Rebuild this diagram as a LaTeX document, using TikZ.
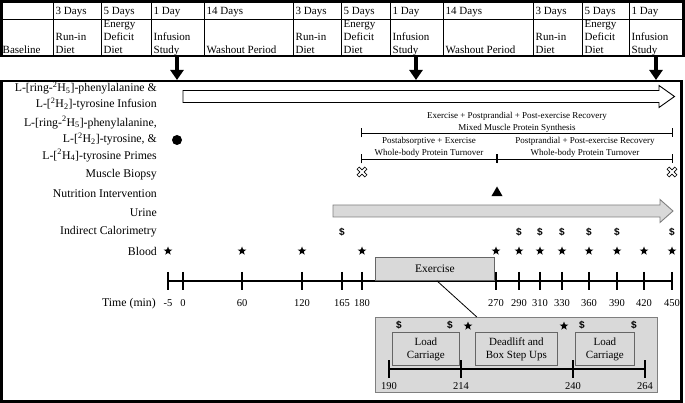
\documentclass[tikz,border=0pt]{standalone}
\usepackage{fontspec}
\setmainfont{Liberation Serif}
\setsansfont{Liberation Sans}
\usepackage{tikz}
\usetikzlibrary{positioning, arrows.meta, calc, shapes.geometric}
\definecolor{lightfill}{HTML}{D9D9D9}
\definecolor{edgegray}{HTML}{7F7F7F}
\newcommand{\iso}[2]{\textsuperscript{2}H\textsubscript{#1}#2}

\begin{document}
\begin{tikzpicture}[x=1pt, y=-1pt,
    rule/.style={line width=0.6pt},
    border/.style={line width=2.6pt},
    hdr/.style={anchor=base west, inner sep=0pt, font=\fontsize{11}{13}\selectfont},
    cell/.style={anchor=south west, align=left, text depth=0pt, inner xsep=2.5pt, inner ysep=2pt, font=\fontsize{11}{13}\selectfont},
    down/.style={line width=4pt, -{Triangle[length=10pt, width=13pt]}},
    lbl/.style={anchor=east, align=right, inner sep=0pt, font=\fontsize{11.8}{16.5}\selectfont},
    note/.style={align=center, inner sep=0pt, font=\fontsize{9}{11.5}\selectfont},
    num/.style={anchor=base, inner sep=0pt, font=\fontsize{10.5}{12}\selectfont},
    span/.style={line width=0.9pt, {Bar[width=9pt]}-{Bar[width=9pt]}},
    axis/.style={line width=2.6pt},
    tick/.style={line width=2.6pt},
    blood/.style={star, star points=5, star point ratio=2.4, fill, inner sep=0pt, minimum size=9pt},
    vo2/.style={inner sep=0pt, font=\fontsize{10}{10}\selectfont\sffamily\bfseries},
    hollow/.style={draw, line width=0.9pt, fill=white},
    grayflow/.style={draw=edgegray, line width=0.9pt, fill=lightfill},
    phase/.style={draw=black!60, line width=0.8pt, fill=lightfill, align=center, inner sep=0pt, font=\fontsize{11}{13}\selectfont},
    biopsy/.pic={\draw[fill=white, line width=0.6pt, rotate=45] (-1.5,-5.5) -- (1.5,-5.5) -- (1.5,-1.5) -- (5.5,-1.5) -- (5.5,1.5) -- (1.5,1.5) -- (1.5,5.5) -- (-1.5,5.5) -- (-1.5,1.5) -- (-5.5,1.5) -- (-5.5,-1.5) -- (-1.5,-1.5) -- cycle;},
]
\useasboundingbox (0,0) rectangle (685,403);

% study schedule table
\foreach \x/\d/\s [count=\i] in {0//Baseline, 53/3 Days/{Run-in\\Diet}, 101/5 Days/{Energy\\Deficit\\Diet}, 151/1 Day/{Infusion\\Study}, 204/14 Days/{Washout Period}, 293/3 Days/{Run-in\\Diet}, 341/5 Days/{Energy\\Deficit\\Diet}, 390/1 Day/{Infusion\\Study}, 443/14 Days/{Washout Period}, 533/3 Days/{Run-in\\Diet}, 582/5 Days/{Energy\\Deficit\\Diet}, 629/1 Day/{Infusion\\Study}} {
  \node[hdr] (d\i) at (\x+2.5,15) {\d};
  \node[cell] (s\i) at (\x,56) {\s};
}
\foreach \x in {53,101,151,204,293,341,390,443,533,582,629}
  \draw[rule] (\x,1) -- (\x,56);
\draw[rule] (0,19) -- (684,19);
\draw[border] (1.3,1.3) rectangle (683.7,56);

% infusion days
\coordinate (day1) at (177,56);
\coordinate (day2) at (416,56);
\coordinate (day3) at (656,56);
\draw[border] (1.3,81) rectangle (681.7,401.7);
\foreach \c in {day1,day2,day3}
  \draw[down] (\c) -- ($(\c)+(0,24)$);

% row labels
\node[lbl] (lab-inf) at (157,96) {L-[ring-\iso{5}{}]-phenylalanine \&\\L-[\iso{2}{}]-tyrosine Infusion};
\node[lbl] (lab-prime) at (157,139) {L-[ring-\iso{5}{}]-phenylalanine,\\L-[\iso{2}{}]-tyrosine, \&\\L-[\iso{4}{}]-tyrosine Primes};
\node[lbl] (lab-bx) at (157,175) {Muscle Biopsy};
\node[lbl] (lab-nut) at (157,194) {Nutrition Intervention};
\node[lbl] (lab-urine) at (157,213) {Urine};
\node[lbl] (lab-ic) at (157,232) {Indirect Calorimetry};
\node[lbl] (lab-blood) at (157,251) {Blood};
\node[lbl, anchor=base east] (lab-time) at (156,306) {Time (min)};

% infusion and urine collection
\draw[hollow] (183,90.5) -- (659,90.5) -- (659,85.5) -- (674.5,96.5) -- (659,107.5) -- (659,102.5) -- (183,102.5) -- cycle;
\draw[grayflow] (333,205) -- (660,205) -- (660,199.5) -- (673,211) -- (660,222.5) -- (660,217) -- (333,217) -- cycle;
\node[circle, fill, inner sep=0pt, minimum size=10pt] (prime) at (177,140) {};

% measurement windows
\node[note] (mps) at (517,122.5) {Exercise + Postprandial + Post-exercise Recovery\\Mixed Muscle Protein Synthesis};
\draw[span] (361,133) -- (673,133);
\node[note] (wbpt1) at (429,147.5) {Postabsorptive + Exercise\\Whole-body Protein Turnover};
\node[note] (wbpt2) at (585,147.5) {Postprandial + Post-exercise Recovery\\Whole-body Protein Turnover};
\draw[span] (361,159) -- (497,159);
\draw[span] (497,159) -- (673,159);

\pic at (362,172) {biopsy};
\pic at (672,172) {biopsy};
\node[regular polygon, regular polygon sides=3, fill, inner sep=0pt, minimum size=13pt] (meal) at (497,193) {};

% time line
\foreach \t/\x in {-5/168, 0/183, 60/242, 120/302, 165/342, 180/362, 270/496, 290/519, 310/540, 330/562, 360/589, 390/617, 420/644, 450/672} {
  \coordinate (t\t) at (\x,281);
  \draw[tick] (\x,272) -- (\x,290);
  \node[num] (n\t) at (\x,306) {\t};
}
\draw[axis] (t-5) -- (t450);
\foreach \x in {342,519,540,562,589,617,672}
  \node[vo2] at (\x,232) {\$};
\foreach \x in {168,242,302,362,496,519,540,562,589,617,644,672}
  \node[blood] at (\x,251) {};

\node[phase, minimum width=119pt, minimum height=23pt, anchor=north west, font=\fontsize{11.5}{13}\selectfont] (ex) at (375,257) {Exercise};

% exercise detail
\node[draw=edgegray, line width=0.9pt, fill=lightfill, minimum width=282pt, minimum height=75pt, anchor=north west, inner sep=0pt] (zoom) at (375,317) {};
\draw[line width=0.8pt] ($(ex.south)+(2,0)$) -- ($(zoom.north west)!0.36!(zoom.north east)$);
\node[phase, minimum width=67pt, minimum height=33pt, anchor=north west] (lc1) at (392,332) {Load\\Carriage};
\node[phase, minimum width=82pt, minimum height=33pt, anchor=north west] (dl) at (475,332) {Deadlift and\\Box Step Ups};
\node[phase, minimum width=59pt, minimum height=33pt, anchor=north west] (lc2) at (575,332) {Load\\Carriage};
\foreach \t/\x in {190/389, 214/461, 240/573, 264/645} {
  \coordinate (u\t) at (\x,369);
  \draw[tick] (\x,360) -- (\x,378);
  \node[num] (m\t) at (\x,389) {\t};
}
\draw[axis] (u190) -- (u264);
\foreach \x in {399,450,582,634}
  \node[vo2] at (\x,325) {\$};
\foreach \x in {468,564}
  \node[blood] at (\x,326) {};
\end{tikzpicture}
\end{document}
